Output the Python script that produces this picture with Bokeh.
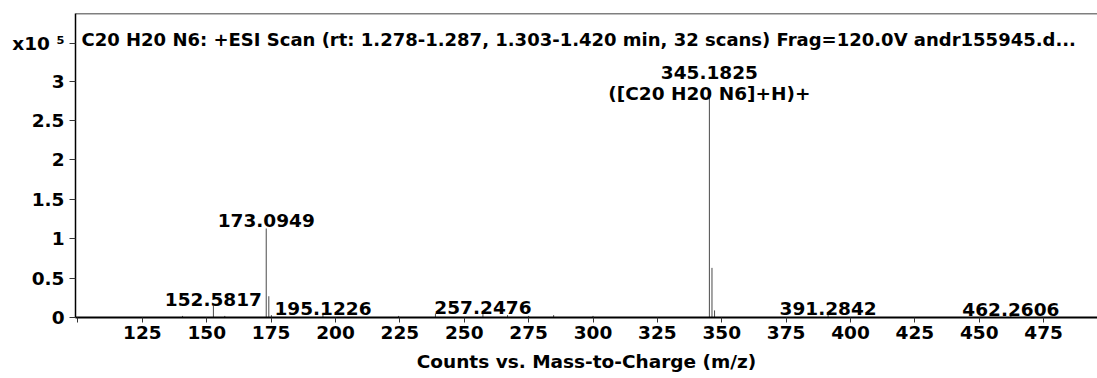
from bokeh.plotting import figure
from bokeh.models import Range1d, FixedTicker, Span, Label
from bokeh.core.properties import value
from bokeh.embed import file_html
from bokeh.resources import INLINE

# ---- data (intensity in units of 10^5 counts) ----
peak_mz = [140.6, 152.5817, 157.0, 173.0949, 174.10, 175.1, 195.1226, 224.5,
           238.8, 257.2476, 266.8, 275.0, 284.7, 300.0, 345.1825, 346.19,
           347.19, 391.2842, 462.2606]
peak_int = [0.02, 0.15, 0.02, 1.13, 0.27, 0.03, 0.04, 0.02,
            0.05, 0.05, 0.03, 0.02, 0.03, 0.02, 2.80, 0.63,
            0.09, 0.04, 0.02]

label_mz = [152.5817, 173.0949, 195.1226, 257.2476, 345.1825, 391.2842, 462.2606]
label_text = ["152.5817", "173.0949", "195.1226", "257.2476", "345.1825", "391.2842", "462.2606"]
formula_mz = [345.1825]
formula_text = ["([C20 H20 N6]+H)+"]

x_ticks = [100, 125, 150, 175, 200, 225, 250, 275, 300, 325, 350, 375, 400, 425, 450, 475]
x_tick_labels = ["", "125", "150", "175", "200", "225", "250", "275", "300", "325",
                 "350", "375", "400", "425", "450", "475"]
y_ticks = [0, 0.5, 1, 1.5, 2, 2.5, 3]
y_tick_labels = ["0", "0.5", "1", "1.5", "2", "2.5", "3"]
scale_label = "x10 \u2075"          # shown at the top of the y axis
scale_label_pos = 3.483

title_text = "C20 H20 N6: +ESI Scan (rt: 1.278-1.287, 1.303-1.420 min, 32 scans) Frag=120.0V andr155945.d..."
x_title = "Counts vs. Mass-to-Charge (m/z)"

FONT = "DejaVu Sans"
FS = "18.5px"

label_int = [peak_int[peak_mz.index(m)] for m in label_mz]
formula_int = [peak_int[peak_mz.index(m)] for m in formula_mz]

X0, X1 = 99.03, 495.9
Y0, Y1 = 0.0, 3.86

p = figure(width=1097, height=378, output_backend="svg", toolbar_location=None,
           x_range=Range1d(X0, X1), y_range=Range1d(Y0, Y1),
           min_border_left=75, min_border_right=0, min_border_top=13, min_border_bottom=61)
p.outline_line_color = None
p.grid.visible = False
p.background_fill_color = "white"
p.border_fill_color = "white"

# peaks
p.segment(x0=peak_mz, y0=[0] * len(peak_mz), x1=peak_mz, y1=peak_int,
          line_color="#4a4a4a", line_width=1)

# peak labels
p.text(x=label_mz, y=label_int, text=label_text, text_align="center",
       text_baseline="alphabetic", y_offset=[-6, -8, -6, -6, -24, -6, -6],
       text_font=value(FONT), text_font_style="bold", text_font_size=FS, text_color="black")
p.text(x=formula_mz, y=formula_int, text=formula_text, text_align="center",
       text_baseline="alphabetic", y_offset=-3,
       text_font=value(FONT), text_font_style="bold", text_font_size=FS, text_color="black")

# axes
xa = p.xaxis[0]
xa.ticker = FixedTicker(ticks=x_ticks)
xa.major_label_overrides = {t: l for t, l in zip(x_ticks, x_tick_labels)}
xa.minor_tick_line_color = None
xa.major_tick_in = 0
xa.major_tick_out = 5
xa.major_label_standoff = 3
xa.axis_line_width = 2
xa.axis_line_color = "black"
xa.major_tick_line_color = "#333333"
xa.major_label_text_font = FONT
xa.major_label_text_font_style = "bold"
xa.major_label_text_font_size = FS
xa.major_label_text_color = "black"
xa.axis_label = x_title
xa.axis_label_text_font = FONT
xa.axis_label_text_font_style = "bold"
xa.axis_label_text_font_size = FS
xa.axis_label_text_color = "black"
xa.axis_label_standoff = 9

ya = p.yaxis[0]
ya.ticker = FixedTicker(ticks=y_ticks + [scale_label_pos])
overrides = {t: l for t, l in zip(y_ticks, y_tick_labels)}
overrides[scale_label_pos] = scale_label
ya.major_label_overrides = overrides
ya.minor_tick_line_color = None
ya.major_tick_in = 0
ya.major_tick_out = 6
ya.major_label_standoff = 5
ya.axis_line_width = 1.5
ya.axis_line_color = "black"
ya.major_tick_line_color = "#333333"
ya.major_label_text_font = FONT
ya.major_label_text_font_style = "bold"
ya.major_label_text_font_size = FS
ya.major_label_text_color = "black"

# top border
p.add_layout(Span(location=Y1, dimension="width", line_color="black", line_width=1.5))

# title inside plot area
p.add_layout(Label(x=101.36, y=3.534, text=title_text, text_align="left",
                   text_baseline="alphabetic", text_font=FONT, text_font_style="bold",
                   text_font_size="18px", text_color="black"))

open("out.html", "w").write(file_html(p, INLINE))
